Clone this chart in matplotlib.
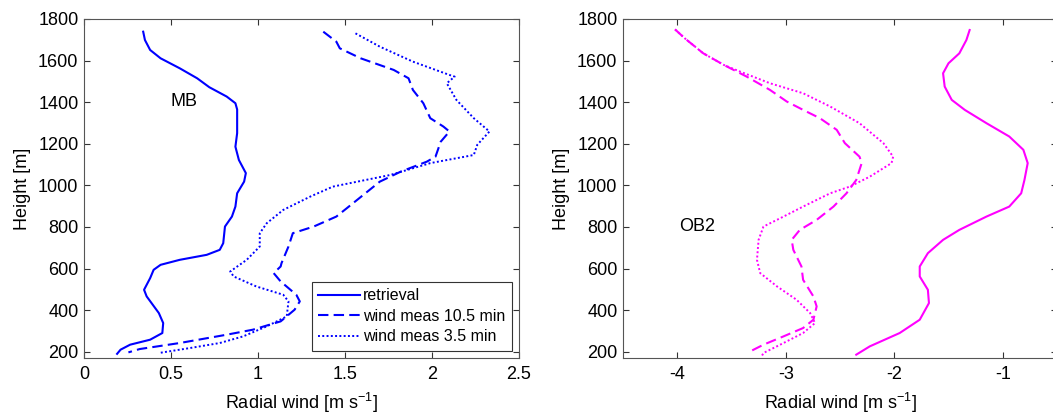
import matplotlib
matplotlib.use("Agg")
import matplotlib.pyplot as plt

plt.rcParams['font.family'] = ['Liberation Sans', 'DejaVu Sans']
plt.rcParams['mathtext.fontset'] = 'custom'
plt.rcParams['mathtext.rm'] = 'Liberation Sans'
plt.rcParams['mathtext.it'] = 'Liberation Sans:italic'
plt.rcParams['mathtext.default'] = 'regular'

# ---- Left panel (MB) ----
mb_ret_x = [0.34, 0.35, 0.38, 0.44, 0.55, 0.65, 0.72, 0.82, 0.87, 0.88, 0.88, 0.87, 0.89, 0.93, 0.92,
            0.88, 0.87, 0.85, 0.81, 0.80, 0.78, 0.705, 0.55, 0.44, 0.40, 0.38, 0.345, 0.36, 0.43, 0.455,
            0.45, 0.38, 0.265, 0.21, 0.19]
mb_ret_h = [1739, 1699, 1651, 1611, 1563, 1515, 1472, 1427, 1395, 1365, 1251, 1186, 1122, 1059, 1018,
            962, 898, 850, 802, 722, 690, 666, 642, 618, 594, 554, 498, 466, 386, 338,
            290, 258, 234, 210, 190]

mb_105_x = [1.375, 1.45, 1.47, 1.59, 1.78, 1.865, 1.89, 1.95, 1.99, 2.065, 2.10, 2.05, 2.02, 1.97, 1.82,
            1.70, 1.605, 1.51, 1.45, 1.32, 1.20, 1.175, 1.135, 1.13, 1.09, 1.13, 1.22, 1.24, 1.21, 1.13,
            0.97, 0.82, 0.55, 0.32, 0.255]
mb_105_h = [1739, 1691, 1659, 1611, 1555, 1515, 1459, 1395, 1323, 1283, 1259, 1210, 1138, 1114, 1066,
            1018, 954, 890, 850, 802, 770, 706, 626, 610, 578, 538, 474, 442, 402, 346,
            306, 282, 242, 213, 197]

mb_35_x = [1.56, 1.70, 1.89, 2.10, 2.13, 2.085, 2.14, 2.24, 2.33, 2.26, 2.24, 1.99, 1.76, 1.43, 1.30,
           1.145, 1.05, 1.01, 1.01, 0.935, 0.84, 0.86, 0.99, 1.145, 1.175, 1.165, 1.05, 0.915, 0.78, 0.61,
           0.43]
mb_35_h = [1731, 1667, 1595, 1531, 1523, 1491, 1411, 1323, 1259, 1195, 1146, 1107, 1050, 994, 946,
           882, 818, 770, 706, 642, 586, 562, 514, 474, 442, 370, 322, 274, 242, 218,
           194]

# ---- Right panel (OB2) ----
ob_ret_x = [-1.305, -1.335, -1.40, -1.50, -1.55, -1.535, -1.47, -1.35, -1.15, -0.94, -0.81, -0.77, -0.80,
            -0.83, -0.94, -1.15, -1.40, -1.55, -1.69, -1.765, -1.765, -1.69, -1.68, -1.765, -1.95, -2.225, -2.35]
ob_ret_h = [1747, 1699, 1635, 1587, 1539, 1475, 1411, 1363, 1299, 1235, 1171, 1107, 1026,
            962, 898, 850, 786, 738, 674, 610, 562, 498, 434, 354, 290, 226, 186]

ob_105_x = [-4.02, -3.93, -3.76, -3.57, -3.36, -3.145, -2.99, -2.84, -2.685, -2.53, -2.455, -2.32, -2.30,
            -2.35, -2.44, -2.56, -2.715, -2.87, -2.945, -2.93, -2.855, -2.84, -2.745, -2.715, -2.745, -2.84,
            -3.02, -3.205, -3.33]
ob_105_h = [1750, 1707, 1635, 1579, 1523, 1459, 1403, 1363, 1323, 1267, 1203, 1138, 1107,
            1026, 962, 898, 834, 786, 738, 690, 610, 546, 466, 418, 354, 314,
            274, 234, 201]

ob_35_x = [-4.02, -3.93, -3.76, -3.57, -3.42, -3.145, -2.84, -2.59, -2.32, -2.10, -2.01, -2.025, -2.225,
           -2.41, -2.59, -2.84, -3.02, -3.205, -3.25, -3.265, -3.235, -3.08, -2.90, -2.775, -2.73, -2.84,
           -3.02, -3.205, -3.22]
ob_35_h = [1750, 1707, 1635, 1579, 1547, 1491, 1443, 1379, 1299, 1203, 1138, 1107, 1042,
           994, 962, 898, 850, 802, 738, 642, 578, 514, 450, 386, 338, 290,
           242, 194, 180]

legend_labels = ['retrieval', 'wind meas 10.5 min', 'wind meas 3.5 min']
yticks = [200, 400, 600, 800, 1000, 1200, 1400, 1600, 1800]
left_xticks = [0, 0.5, 1, 1.5, 2, 2.5]
left_xticklabels = ['0', '0.5', '1', '1.5', '2', '2.5']
right_xticks = [-4, -3, -2, -1]
right_xticklabels = ['-4', '-3', '-2', '-1']

blue = '#0000ff'
magenta = '#ff00ff'
dash = (0, (5, 2.5))
dot = (0, (1, 1.2))
lw = 1.5
fs = 13

fig = plt.figure(figsize=(10.53, 4.13), dpi=100)
ax1 = fig.add_axes([0.0798, 0.1332, 0.4131, 0.8208])
ax2 = fig.add_axes([0.5916, 0.1332, 0.4122, 0.8208])

l1, = ax1.plot(mb_ret_x, mb_ret_h, color=blue, lw=lw, ls='-')
l2, = ax1.plot(mb_105_x, mb_105_h, color=blue, lw=lw, ls=dash)
l3, = ax1.plot(mb_35_x, mb_35_h, color=blue, lw=1.4, ls=dot)

ax2.plot(ob_ret_x, ob_ret_h, color=magenta, lw=lw, ls='-')
ax2.plot(ob_105_x, ob_105_h, color=magenta, lw=lw, ls=dash)
ax2.plot(ob_35_x, ob_35_h, color=magenta, lw=1.4, ls=dot)

ax1.set_xlim(0, 2.5)
ax2.set_xlim(-4.5, -0.5)
for ax in (ax1, ax2):
    ax.set_ylim(170, 1800)
    ax.set_yticks(yticks)
    ax.tick_params(direction='in', top=True, right=True, labelsize=fs,
                   length=4, width=0.8, color='#333333')
    ax.tick_params(axis='x', pad=5.5)
    ax.tick_params(axis='y', pad=4)
    for s in ax.spines.values():
        s.set_color('#555555')
        s.set_linewidth(0.8)
    ax.set_ylabel('Height [m]', fontsize=fs, labelpad=5)
    ax.set_xlabel('Radial wind [m s$^{-1}$]', fontsize=fs, labelpad=6)

ax1.set_xticks(left_xticks)
ax1.set_xticklabels(left_xticklabels)
ax2.set_xticks(right_xticks)
ax2.set_xticklabels(right_xticklabels)

ax1.text(0.575, 1401, 'MB', fontsize=fs, ha='center', va='center')
ax2.text(-3.82, 802, 'OB2', fontsize=fs, ha='center', va='center')

leg = ax1.legend([l1, l2, l3], legend_labels, loc='lower right', fontsize=11.5,
                 frameon=True, fancybox=False, edgecolor='#333333', framealpha=1,
                 handlelength=2.6, handletextpad=0.2, borderpad=0.4, labelspacing=0.35,
                 borderaxespad=0.45)
leg.get_frame().set_linewidth(0.8)

fig.savefig('out.png', dpi=100)
